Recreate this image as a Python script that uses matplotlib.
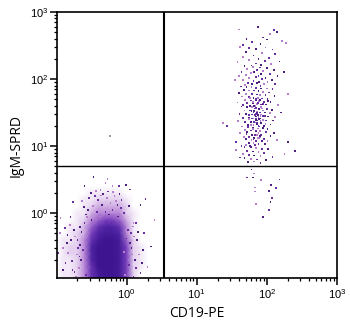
import numpy as np
import matplotlib
matplotlib.use("Agg")
import matplotlib.pyplot as plt
from matplotlib.colors import LinearSegmentedColormap
from matplotlib.ticker import LogLocator, NullFormatter

plt.rcParams["font.family"] = ["Liberation Sans", "DejaVu Sans"]
plt.rcParams["mathtext.default"] = "regular"

# ---- CD19- / IgM- population: event density on a log10 grid ----
tcell_grid_logx = [-1.0, -0.9, -0.8, -0.7, -0.6, -0.5, -0.4, -0.3, -0.2, -0.1, 0.0, 0.1, 0.2, 0.3]
tcell_grid_logy = [-1.0, -0.9, -0.8, -0.7, -0.6, -0.5, -0.4, -0.3, -0.2, -0.1, 0.0, 0.1, 0.2, 0.3, 0.4, 0.5]
tcell_density = [
    [0, 1, 1, 2, 4, 7, 9, 10, 10, 9, 6, 2, 0, 0],
    [0, 1, 1, 2, 4, 7, 9, 10, 10, 9, 6, 2, 0, 0],
    [0, 1, 1, 2, 4, 7, 10, 10, 10, 9, 6, 2, 1, 0],
    [0, 1, 1, 2, 4, 8, 10, 10, 10, 9, 6, 2, 1, 0],
    [0, 1, 2, 2, 4, 8, 10, 10, 10, 9, 6, 2, 1, 0],
    [0, 1, 2, 2, 4, 8, 10, 10, 10, 9, 6, 2, 1, 0],
    [0, 1, 1, 2, 4, 7, 9, 10, 10, 9, 5, 2, 0, 0],
    [0, 0, 1, 2, 3, 6, 8, 9, 9, 8, 4, 1, 0, 0],
    [0, 0, 1, 1, 3, 5, 7, 8, 8, 7, 4, 1, 0, 0],
    [0, 0, 0, 1, 2, 4, 5, 6, 6, 5, 3, 1, 0, 0],
    [0, 0, 0, 1, 1, 3, 4, 4, 4, 4, 2, 1, 0, 0],
    [0, 0, 0, 0, 1, 2, 3, 3, 3, 3, 2, 0, 0, 0],
    [0, 0, 0, 0, 1, 1, 2, 2, 2, 2, 1, 0, 0, 0],
    [0, 0, 0, 0, 0, 1, 1, 1, 1, 1, 0, 0, 0, 0],
    [0, 0, 0, 0, 0, 0, 0, 0, 0, 0, 0, 0, 0, 0],
    [0, 0, 0, 0, 0, 0, 0, 0, 0, 0, 0, 0, 0, 0],
]

# scattered events around the CD19- population (log10 units)
tcell_logx = [-0.47, -0.27, -0.11, -0.01, -0.37, -0.76, -0.61, -0.19, 0.27, 0.20, 0.10, 0.06,
              0.16, -0.94, -0.80, -0.84, -0.90, -0.87, -0.91, 0.30, 0.20, 0.24, -0.83, -0.77,
              -0.66, -0.56, -0.04, -0.13, -0.23, -0.41, -0.51, -0.30,
              -0.70, -0.65, -0.72, -0.60, -0.55, -0.48, -0.42, -0.35, -0.28, -0.20, -0.12, -0.05,
              0.02, 0.05, 0.08, 0.03, 0.12, -0.02, -0.62, -0.75, -0.68, -0.58, -0.50, -0.38,
              -0.30, -0.25, -0.15, -0.08, 0.00, -0.04, 0.10, -0.66, -0.71, -0.78, -0.85, -0.95,
              -0.98, 0.15, 0.18, 0.25, 0.35, 0.40, -0.45, -0.60, -0.20, 0.05, -0.10,
              -0.73, -0.69, -0.64, -0.81, -0.74, -0.67, 0.09, 0.13, 0.07, 0.11, -0.88, -0.79,
              -0.63, -0.53, -0.33, -0.17, -0.07, 0.04, -0.44, -0.26, -0.58, -0.36, 0.14, 0.22]
tcell_logy = [0.54, 0.51, 0.40, 0.42, 0.34, 0.16, 0.09, 0.31, 0.21, 0.12, -0.15, -0.30,
              -0.28, -0.07, -0.06, -0.33, -0.52, -0.75, -0.85, -0.81, -0.90, -0.55, -0.60, -0.85,
              -0.21, -0.06, 0.00, 0.12, 0.15, 0.19, 0.30, 0.45,
              -0.40, -0.70, -0.95, -0.15, 0.05, 0.10, 0.02, 0.12, 0.22, 0.05, -0.05, -0.12,
              -0.25, -0.45, -0.62, -0.78, -0.70, -0.92, -0.55, -0.25, -0.82, -0.92, -0.10, -0.05,
              0.02, -0.02, 0.18, 0.08, -0.38, -0.58, -0.95, -0.48, -0.62, -0.72, -0.45, -0.30,
              -0.60, -0.40, -0.62, -0.30, -0.50, -0.10, 0.25, 0.40, 0.40, 0.35, 0.28,
              -0.35, -0.52, -0.28, -0.18, -0.88, -0.65, -0.20, -0.82, -0.52, -0.35, -0.22, -0.40,
              0.18, 0.22, 0.28, 0.25, 0.20, 0.10, 0.33, 0.32, -0.02, 0.26, -0.15, -0.75]

# ---- CD19+ / IgM+ population (log10 units) ----
bcell_logx = [
    1.87, 1.60, 2.10, 2.14, 2.04, 1.95, 1.71, 2.22, 1.79, 1.91, 2.27, 1.66, 2.00,
    1.62, 1.75, 1.84, 1.98, 2.08, 1.70, 1.93, 2.12, 1.81, 1.66, 2.03, 1.88, 1.74, 1.97, 2.18,
    1.58, 1.85, 1.92, 2.06, 1.78,
    1.68, 1.80, 1.90, 2.00, 1.72, 1.86, 2.10, 1.95, 1.64, 1.82, 1.77, 2.04, 1.92, 1.70, 1.88,
    2.15, 1.60, 1.84, 1.98, 1.75, 1.93, 2.07, 1.66, 1.81, 1.89, 2.01, 1.73, 1.86, 1.96, 2.12,
    1.79, 1.69, 1.91, 2.24, 1.55,
    1.63, 1.71, 1.78, 1.85, 1.92, 2.00, 2.08, 1.67, 1.75, 1.82, 1.88, 1.95, 2.03, 1.60, 1.70,
    1.79, 1.86, 1.90, 1.98, 2.11, 1.65, 1.74, 1.81, 1.87, 1.93, 2.01, 1.69, 1.77, 1.84, 1.89,
    1.96, 2.05, 1.58, 1.72, 1.80, 1.86, 1.91, 1.99, 2.16, 1.66, 1.76, 1.83, 1.94, 2.02, 2.30,
    1.64, 1.72, 1.79, 1.84, 1.88, 1.93, 2.00, 2.07, 1.68, 1.76, 1.82, 1.86, 1.90, 1.97, 2.04,
    1.61, 1.70, 1.78, 1.83, 1.87, 1.91, 1.95, 2.02, 2.12, 1.66, 1.74, 1.80, 1.85, 1.89, 1.94,
    1.99, 2.09, 1.59, 1.69, 1.77, 1.83, 1.86, 1.92, 1.98, 2.05, 1.73, 1.81, 1.88, 1.96, 1.37,
    1.43, 2.20, 1.85, 1.79, 1.90,
    1.65, 1.73, 1.80, 1.87, 1.94, 2.01, 1.69, 1.77, 1.84, 1.90, 1.99, 2.10, 1.62, 1.71, 1.79,
    1.86, 1.92, 2.05, 1.67, 1.75, 1.82, 1.89, 1.96, 1.70, 1.78, 1.85, 1.93, 2.01, 1.56, 1.74,
    1.81, 1.88, 2.30, 1.70, 1.83, 1.97, 2.14, 1.64, 1.76, 1.91,
    1.68, 1.77, 1.84, 1.93, 2.02, 1.56, 1.72, 1.80, 1.88, 1.96, 2.40, 1.66, 1.75, 1.82, 1.91,
    2.08, 1.68, 1.77, 1.86, 1.99, 1.82, 1.91, 1.73, 2.25, 1.62,
    1.78, 1.82, 1.72, 1.80, 1.92, 2.18, 2.06, 1.83, 2.13, 2.03, 1.83, 2.07, 2.05, 1.84, 2.03, 1.94,
    1.76, 1.84, 1.90, 1.80, 1.87, 1.93, 1.78, 1.83, 1.89, 1.95, 1.81, 1.86, 1.92, 1.74, 1.85,
    1.88, 1.79, 1.84, 1.91, 1.82, 1.86, 1.77, 1.89, 1.94, 1.80, 1.85, 1.72, 1.88, 1.83, 1.90,
    1.87, 1.81, 1.78, 1.92, 1.84, 1.86, 1.75, 1.97, 1.82, 1.88,
]
bcell_logy = [
    2.78, 2.74, 2.73, 2.70, 2.67, 2.62, 2.60, 2.57, 2.55, 2.52, 2.54, 2.51, 2.59,
    2.48, 2.46, 2.45, 2.47, 2.44, 2.40, 2.39, 2.37, 2.35, 2.33, 2.31, 2.30, 2.28, 2.27, 2.26,
    2.25, 2.23, 2.21, 2.22, 2.20,
    2.19, 2.18, 2.17, 2.16, 2.15, 2.14, 2.14, 2.12, 2.11, 2.10, 2.09, 2.08, 2.07, 2.06, 2.05,
    2.05, 2.04, 2.03, 2.02, 2.01, 2.00, 1.99, 1.98, 1.97, 1.96, 1.95, 1.94, 1.94, 1.93, 1.92,
    1.92, 1.91, 1.90, 2.10, 1.99,
    1.89, 1.88, 1.88, 1.87, 1.86, 1.86, 1.85, 1.84, 1.83, 1.83, 1.82, 1.81, 1.80, 1.79, 1.78,
    1.78, 1.77, 1.76, 1.76, 1.75, 1.74, 1.73, 1.72, 1.72, 1.71, 1.70, 1.69, 1.68, 1.68, 1.67,
    1.66, 1.66, 1.65, 1.64, 1.64, 1.63, 1.62, 1.62, 1.61, 1.61, 1.60, 1.60, 1.63, 1.67, 1.78,
    1.59, 1.58, 1.58, 1.57, 1.56, 1.56, 1.55, 1.54, 1.53, 1.53, 1.52, 1.51, 1.50, 1.50, 1.49,
    1.48, 1.48, 1.47, 1.46, 1.46, 1.45, 1.45, 1.44, 1.43, 1.42, 1.42, 1.41, 1.40, 1.40, 1.39,
    1.38, 1.38, 1.37, 1.36, 1.36, 1.35, 1.34, 1.34, 1.33, 1.32, 1.31, 1.31, 1.30, 1.30, 1.34,
    1.30, 1.50, 1.44, 1.47, 1.41,
    1.29, 1.28, 1.27, 1.26, 1.26, 1.25, 1.24, 1.23, 1.22, 1.22, 1.21, 1.20, 1.19, 1.18, 1.17,
    1.17, 1.16, 1.15, 1.14, 1.13, 1.12, 1.12, 1.11, 1.10, 1.09, 1.08, 1.08, 1.07, 1.06, 1.05,
    1.04, 1.03, 1.06, 1.02, 1.01, 1.03, 1.09, 1.00, 1.00, 1.14,
    0.99, 0.98, 0.97, 0.96, 0.95, 0.94, 0.93, 0.92, 0.91, 0.90, 0.93, 0.88, 0.87, 0.86, 0.85,
    0.84, 0.82, 0.81, 0.80, 0.79, 0.77, 0.75, 0.76, 0.88, 0.83,
    0.65, 0.59, 0.53, 0.53, 0.49, 0.50, 0.42, 0.38, 0.37, 0.33, 0.32, 0.22, 0.17, 0.13, 0.04, -0.06,
    1.72, 1.70, 1.69, 1.66, 1.64, 1.62, 1.58, 1.56, 1.55, 1.53, 1.51, 1.49, 1.47, 1.46, 1.44,
    1.43, 1.41, 1.39, 1.37, 1.36, 1.33, 1.31, 1.29, 1.27, 1.25, 1.23, 1.21, 1.19, 1.17, 1.15,
    1.12, 1.10, 1.52, 1.58, 1.48, 1.38, 1.40, 1.45, 1.60, 1.26,
]

# lone event in the upper-left quadrant
stray_logx = [-0.24]
stray_logy = [1.15]

# quadrant gate positions
gate_x = 3.38
gate_y = 5.1

# event dot shades (dark and light purple, alternating)
dot_shades = ["#4e1f82", "#b57dcc", "#6a2fa0"]

fig = plt.figure(figsize=(3.5, 3.33), dpi=100)
ax = fig.add_axes([0.163, 0.165, 0.800, 0.799])

cmap = LinearSegmentedColormap.from_list(
    "flow", ["#ffffff", "#e4d0ee", "#b886d6", "#7a40bc", "#5024a4", "#3e1490"])
gx, gy = np.meshgrid(10.0 ** np.array(tcell_grid_logx), 10.0 ** np.array(tcell_grid_logy))
ax.pcolormesh(gx, gy, np.array(tcell_density, dtype=float), shading="gouraud",
              cmap=cmap, vmin=0, vmax=10, zorder=1, rasterized=True)

t_colors = [dot_shades[i % 3] for i in range(len(tcell_logx))]
b_colors = [dot_shades[i % 3] for i in range(len(bcell_logx))]
ax.scatter(10.0 ** np.array(tcell_logx), 10.0 ** np.array(tcell_logy), s=1.6, marker="s",
           c=t_colors, linewidths=0, zorder=2)
ax.scatter(10.0 ** np.array(bcell_logx), 10.0 ** np.array(bcell_logy), s=1.6, marker="s",
           c=b_colors, linewidths=0, zorder=2)
ax.scatter(10.0 ** np.array(stray_logx), 10.0 ** np.array(stray_logy), s=1.6, marker="s",
           c="#9a9a9a", linewidths=0, zorder=2)

ax.axvline(gate_x, color="black", lw=1.5, zorder=3)
ax.axhline(gate_y, color="black", lw=1.0, zorder=3)

ax.set_xscale("log")
ax.set_yscale("log")
ax.set_xlim(10 ** -0.99, 1e3)
ax.set_ylim(10 ** -0.97, 1e3)

ax.xaxis.set_minor_locator(LogLocator(base=10, subs=np.arange(2, 10), numticks=20))
ax.yaxis.set_minor_locator(LogLocator(base=10, subs=np.arange(2, 10), numticks=20))
ax.xaxis.set_minor_formatter(NullFormatter())
ax.yaxis.set_minor_formatter(NullFormatter())
ax.set_xticks([1, 10, 100, 1000])
ax.set_yticks([1, 10, 100, 1000])

ax.tick_params(which="major", direction="out", length=5, width=1.1, labelsize=8,
               pad=1.5, colors="black")
ax.tick_params(which="minor", direction="out", length=2.5, width=0.9)
for sp in ax.spines.values():
    sp.set_linewidth(1.2)

ax.set_xlabel("CD19-PE", fontsize=10, family=["Open Sans", "DejaVu Sans"], labelpad=4)
ax.set_ylabel("IgM-SPRD", fontsize=10, family=["Open Sans", "DejaVu Sans"], labelpad=4)

fig.savefig("out.png", dpi=100)
